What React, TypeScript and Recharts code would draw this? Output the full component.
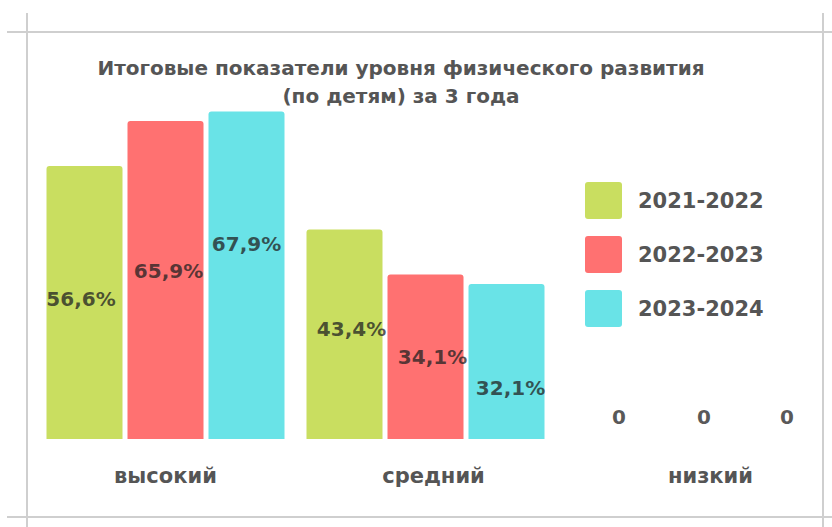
import React from 'react';
import { BarChart, Bar, XAxis, YAxis, Legend, LabelList } from 'recharts';

const categories = ['высокий', 'средний', 'низкий'];
const seriesNames = ['2021-2022', '2022-2023', '2023-2024'];
const values2021 = [56.6, 43.4, 0];
const values2022 = [65.9, 34.1, 0];
const values2023 = [67.9, 32.1, 0];

const colors = ['#c9de60', '#ff7171', '#69e3e7'];
const FONT = '"DejaVu Sans", sans-serif';
const TEXT = '#555555';

// label placement inside bars (the original layout is hand-placed)
const labelNudge = [
  [{ dx: -3.5, dy: -3.5 }, { dx: 7, dy: -5.5 }, { dx: 14.5, dy: -22 }],
  [{ dx: 3, dy: -9 }, { dx: 7, dy: 0 }, { dx: 18.5, dy: -22 }],
  [{ dx: 0, dy: -31.5 }, { dx: 4, dy: 26 }, { dx: 20.5, dy: -22 }],
];
const tickNudge = [0, 8, 25];

const data = categories.map((name, i) => ({
  name,
  s0: values2021[i],
  s1: values2022[i],
  s2: values2023[i],
}));

const fmt = (v: number) => (v === 0 ? '0' : v.toFixed(1).replace('.', ',') + '%');

const makeLabel = (s: number) => (props: any) => {
  const { x, y, width, height, value, index } = props;
  const n = labelNudge[s][index];
  return (
    <text
      x={x + width / 2 + n.dx}
      y={y + height / 2 + n.dy}
      textAnchor="middle"
      dominantBaseline="central"
      fontFamily={FONT}
      fontWeight={700}
      fontSize={20}
      fill="#222"
      fillOpacity={0.75}
    >
      {fmt(value)}
    </text>
  );
};

const CategoryTick = (props: any) => {
  const { x, y, payload, index } = props;
  return (
    <text
      x={x + tickNudge[index]}
      y={y + 36}
      textAnchor="middle"
      fontFamily={FONT}
      fontWeight={700}
      fontSize={21}
      fill={TEXT}
    >
      {payload.value}
    </text>
  );
};

const LegendBox = (props: any) => {
  const { payload } = props;
  return (
    <div>
      {payload.map((p: any) => (
        <div key={p.value} style={{ display: 'flex', alignItems: 'center', height: 37, marginBottom: 17 }}>
          <div style={{ width: 37, height: 37, background: p.color, borderRadius: 3 }} />
          <span style={{ marginLeft: 16, fontFamily: FONT, fontWeight: 700, fontSize: 21, color: TEXT }}>
            {p.value}
          </span>
        </div>
      ))}
    </div>
  );
};

const line = (style: React.CSSProperties) => (
  <div style={{ position: 'absolute', background: '#cfcfcf', ...style }} />
);

export default function App() {
  return (
    <div style={{ position: 'absolute', left: 0, top: 0, width: 832, height: 527, background: '#fff', overflow: 'hidden' }}>
      {line({ left: 7, top: 31, width: 825, height: 2 })}
      {line({ left: 7, top: 516, width: 825, height: 2 })}
      {line({ left: 26, top: 13, width: 2, height: 514 })}
      {line({ left: 822, top: 13, width: 2, height: 514 })}
      <div
        style={{
          position: 'absolute',
          left: 0,
          top: 54,
          width: 802,
          textAlign: 'center',
          fontFamily: FONT,
          fontWeight: 700,
          fontSize: 20,
          lineHeight: '28px',
          color: TEXT,
        }}
      >
        Итоговые показатели уровня физического развития
        <br />
        (по детям) за 3 года
      </div>
      <BarChart
        width={832}
        height={527}
        data={data}
        margin={{ top: 53, right: 16.5, left: 35.5, bottom: 48 }}
        barCategoryGap={11}
        barGap={5}
        style={{ position: 'absolute', left: 0, top: 0 }}
      >
        <XAxis
          dataKey="name"
          axisLine={false}
          tickLine={false}
          height={40}
          interval={0}
          tick={<CategoryTick />}
        />
        <YAxis hide domain={[0, 80]} />
        <Legend
          layout="horizontal"
          verticalAlign="middle"
          align="center"
          content={<LegendBox />}
          wrapperStyle={{ position: 'absolute', left: 585, top: 182, width: 200 }}
        />
        {['s0', 's1', 's2'].map((k, i) => (
          <Bar
            key={k}
            dataKey={k}
            name={seriesNames[i]}
            fill={colors[i]}
            radius={[3, 3, 0, 0]}
            minPointSize={0.01}
            isAnimationActive={false}
          >
            <LabelList dataKey={k} content={makeLabel(i)} />
          </Bar>
        ))}
      </BarChart>
    </div>
  );
}
